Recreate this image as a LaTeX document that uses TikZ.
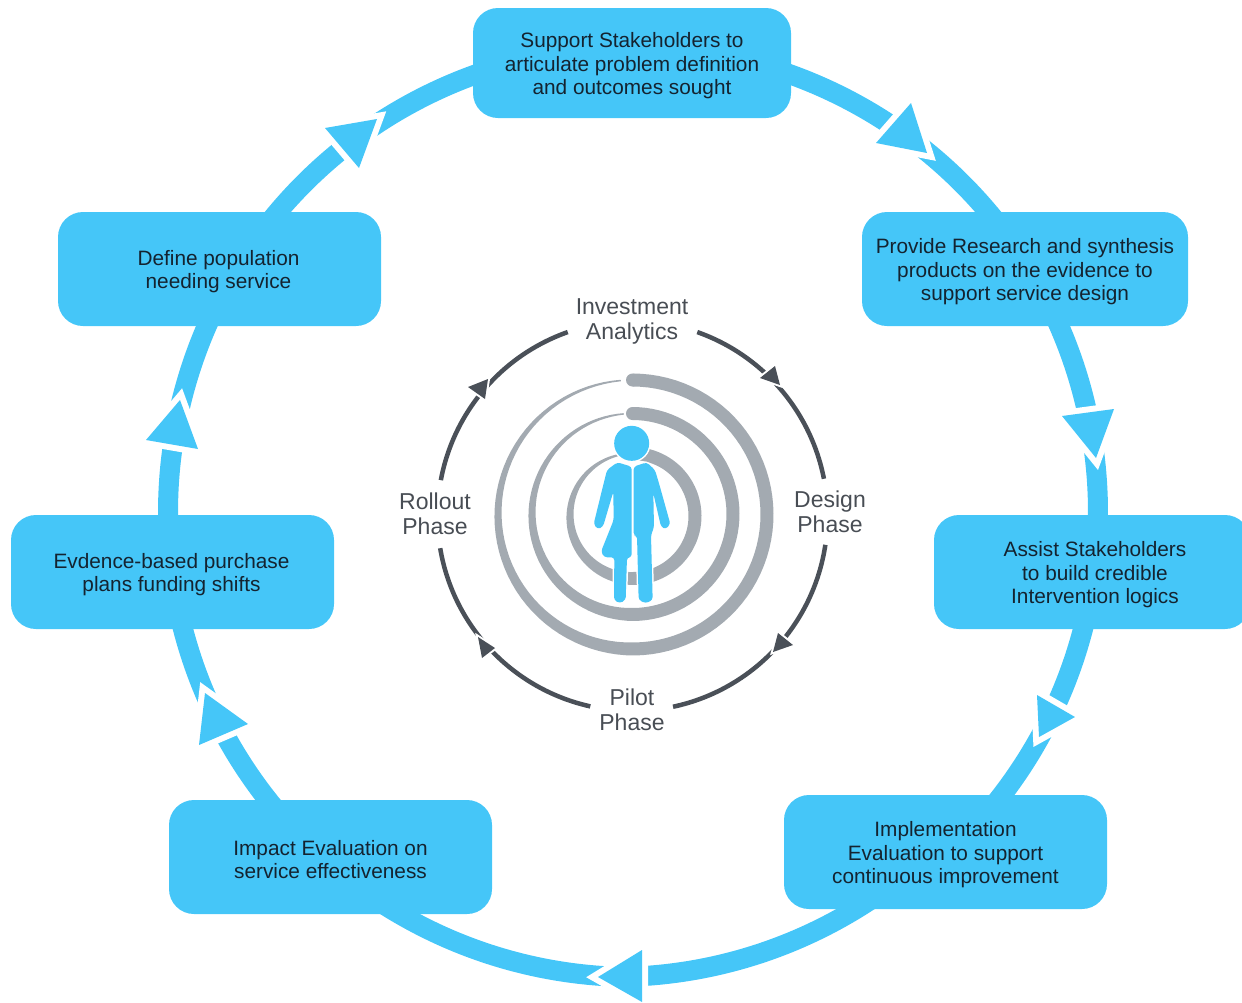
\documentclass[tikz,border=0pt]{standalone}
\usepackage{fontspec}
\setmainfont{Liberation Sans}
\definecolor{skyb}{RGB}{69,198,248}
\definecolor{darkl}{RGB}{74,80,88}
\definecolor{greyr}{RGB}{163,170,177}
\definecolor{labelc}{RGB}{72,77,84}
\definecolor{boxt}{RGB}{20,35,48}
\newcommand{\bigarc}[3]{\draw[bigband] (#3) ++(#1:465pt) arc[start angle=#1,end angle=#2,radius=465pt];}
\newcommand{\smallarc}[2]{\draw[smallband] (smallc) ++(#1:195pt) arc[start angle=#1,end angle=#2,radius=195pt];}
\newcommand{\spiralband}[3]{%
  \fill[greyr] plot[domain=0:355,samples=100] ({#1+(#3+spw(\x)/2)*sin(\x)},{#2-(#3+spw(\x)/2)*cos(\x)})
   -- plot[domain=355:0,samples=100] ({#1+(#3-spw(\x)/2)*sin(\x)},{#2-(#3-spw(\x)/2)*cos(\x)}) -- cycle;
  \fill[greyr] (#1,#2-#3) circle[radius=6.5pt];}
\tikzset{
  bigband/.style={draw=skyb,line width=20pt},
  smallband/.style={draw=darkl,line width=4.5pt},
  bighead/.style={fill=skyb,line join=miter,preaction={draw=white,line width=12pt,line join=miter}},
  smallhead/.style={fill=darkl,line join=miter,preaction={draw=white,line width=4pt,line join=miter}},
  stagebox/.style={fill=skyb,rounded corners=25pt,minimum width=323pt,minimum height=114pt,inner sep=0pt},
  boxtext/.style={yshift=-2.7pt,inner sep=0pt,align=center,text=boxt,font=\fontsize{20.8}{23.2}\selectfont},
  phaselabel/.style={align=center,text=labelc,inner sep=0pt,font=\fontsize{23}{25}\selectfont},
  figure/.style={fill=skyb,rounded corners=3pt,line join=round,preaction={draw=white,line width=3pt}},
}
\begin{document}
\begin{tikzpicture}[x=1pt,y=-1pt,declare function={spw(\t)=ifthenelse(\t<180,13,13-11.5*(\t-180)/175);}]
\useasboundingbox (0,0) rectangle (1242,1002);
\clip (0,0) rectangle (1242,1002);
\coordinate (bigc) at (633,512);
\coordinate (bigd) at (614,512);
\coordinate (smallc) at (632.5,516);
% outer cycle
\bigarc{90}{31.8}{bigc}
\bigarc{31.8}{-7.4}{bigc}
\bigarc{-7.4}{-47.5}{bigc}
\bigarc{-47.5}{-87.4}{bigd}
\bigarc{-92}{-131.3}{bigc}
\bigarc{-131.3}{-172.6}{bigc}
\bigarc{187.4}{149.6}{bigc}
\bigarc{149.6}{90}{bigc}
\fill[bighead] (911,103) -- (876,143) -- (927,153) -- cycle;
\fill[bighead] (1062,416) -- (1114,409) -- (1096,458) -- cycle;
\fill[bighead] (1037,695) -- (1075,717) -- (1039,737) -- cycle;
\fill[bighead] (642,950) -- (642,1002) -- (598,977) -- cycle;
\fill[bighead] (205,693) -- (248,724) -- (199,745) -- cycle;
\fill[bighead] (146,440) -- (180,400) -- (198,449) -- cycle;
\fill[bighead] (325,128) -- (377,119) -- (359,168) -- cycle;
% boxes
\node[stagebox,minimum width=318pt,minimum height=110pt,label={[boxtext]center:{Support Stakeholders to\\articulate problem definition\\and outcomes sought}}] (b1) at (632,63) {};
\node[stagebox,minimum width=326pt,label={[boxtext]center:{Provide Research and synthesis\\products on the evidence to\\support service design}}] (b2) at (1025,269) {};
\node[stagebox,minimum width=316pt,label={[boxtext,xshift=3pt]center:{Assist Stakeholders\\to build credible\\Intervention logics}}] (b3) at (1092,572) {};
\node[stagebox,label={[boxtext]center:{Implementation\\Evaluation to support\\continuous improvement}}] (b4) at (945.5,852) {};
\node[stagebox,label={[boxtext]center:{Impact Evaluation on\\service effectiveness}}] (b5) at (330.5,857) {};
\node[stagebox,label={[boxtext,xshift=-1pt]center:{Evdence-based purchase\\plans funding shifts}}] (b6) at (172.5,572) {};
\node[stagebox,label={[boxtext,xshift=-1pt]center:{Define population\\needing service}}] (b7) at (219.5,269) {};
% inner cycle
\smallarc{70.6}{11}
\smallarc{-8.5}{-78}
\smallarc{-102.5}{-170.5}
\smallarc{169.4}{109.4}
\fill[smallhead] (760,378) -- (775,366) -- (780,385) -- cycle;
\fill[smallhead] (778,633) -- (793,645) -- (773,652) -- cycle;
\fill[smallhead] (495,648) -- (482,658) -- (478,637) -- cycle;
\fill[smallhead] (468,387) -- (485,399) -- (488,379) -- cycle;
\node[phaselabel] (p1) at (632,321) {Investment\\Analytics};
\node[phaselabel] (p2) at (830,512) {Design\\Phase};
\node[phaselabel] (p3) at (632,710) {Pilot\\Phase};
\node[phaselabel] (p4) at (435,514) {Rollout\\Phase};
% spirals
\spiralband{632.5}{514.5}{134.5}
\spiralband{632.5}{514}{100.5}
\spiralband{632.5}{516}{62.5}
% figure
\begin{scope}[shift={(585,420)},x=0.3333pt,y=-0.3333pt]
\fill[figure] (140,70) circle[radius=17.5pt]
  (140,140) -- (97,127) -- (66,150) -- (56,190) -- (26,312) -- (38,328) -- (54,320) -- (85,215) -- (86,300) -- (48,395) -- (58,412) -- (88,412) -- (87,540) -- (104,550) -- (122,540) -- (126,412) -- (140,412) -- cycle
  (146,140) -- (185,127) -- (210,150) -- (222,190) -- (256,312) -- (242,328) -- (228,320) -- (205,220) -- (207,322) -- (198,345) -- (203,540) -- (182,550) -- (161,540) -- (156,347) -- (146,347) -- cycle;
\end{scope}
\end{tikzpicture}
\end{document}
